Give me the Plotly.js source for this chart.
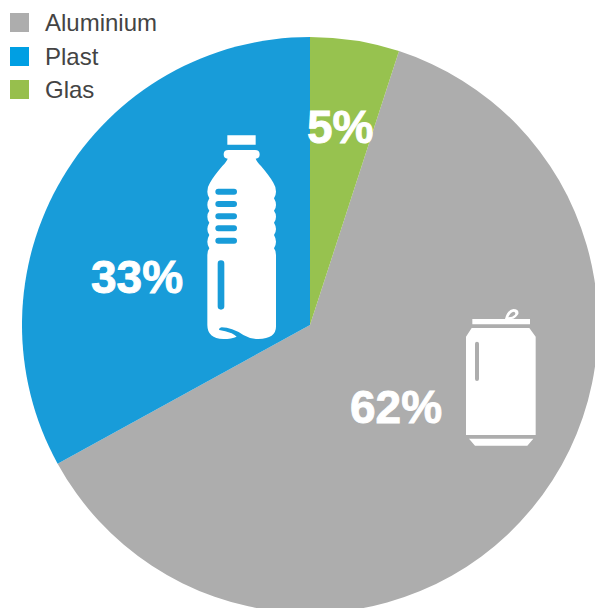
<!DOCTYPE html>
<html>
<head>
<meta charset="utf-8">
<script src="https://cdn.plot.ly/plotly-3.0.1.min.js"></script>
<style>
html,body{margin:0;padding:0;width:595px;height:608px;overflow:hidden;background:#fff}
.annotation-text tspan[style*="bold"]{stroke:#fff;stroke-width:0.9px}
</style>
</head>
<body>
<div id="chart"></div>
<script>
const categories = ['Aluminium', 'Plast', 'Glas'];
const values = [62, 33, 5];
const sliceColors = ['#ADADAD', '#189CD9', '#97C24F'];
const legendColors = ['#ADADAD', '#009FE3', '#97BF4D'];

// The canvas is a little larger than the window so the pie is cut by the right and bottom edges.
const W = 620, H = 640;
const CX = 310, CY = 325, R = 288;
const labelPos = [[396, 407], [137, 277], [340, 127]];
const legendRows = [22.5, 56.5, 89.5];

const BOTTLE = 'M112,46H197V74H112Z ' +
  'M115,90H195Q209,90 209,103Q209,116 197,116Q200,125 213,138Q240,170 250,188Q258,200 258,215Q258,225 252,235Q258,245 258,255Q258,265 252,272Q258,280 258,290Q258,300 252,308Q258,318 258,327Q258,337 252,345Q258,355 258,365Q258,375 252,385Q258,392 258,405V620Q258,655 205,657Q180,657 160,645Q125,622 95,622Q85,624 88,630Q105,632 125,640Q135,645 140,650Q125,657 100,657Q52,655 52,615V405Q52,392 58,385Q52,375 52,365Q52,355 58,345Q52,337 52,327Q52,318 58,308Q52,300 52,290Q52,280 58,272Q52,265 52,255Q52,245 58,235Q52,225 52,215Q52,200 60,188Q70,170 97,138Q110,125 113,116Q101,116 101,103Q101,90 115,90Z ' +
  [215, 252, 289, 325, 362].map(y => `M85,${y - 9}H132Q141,${y - 9} 141,${y}Q141,${y + 9} 132,${y + 9}H85Q76,${y + 9} 76,${y}Q76,${y - 9} 85,${y - 9}Z`).join(' ') +
  ' M93,421Q103,421 103,431V559Q103,569 93,569Q83,569 83,559V431Q83,421 93,421Z';
const CAN = 'M67,57H240V73H67Z M65,84H238L257,110V405H48V110Z ' +
  'M81,125Q87,125 87,131V237Q87,243 81,243Q75,243 75,237V131Q75,125 81,125Z ' +
  'M57,416H250L232,437H75Z ' +
  'M165,57Q172,30 190,27Q208,27 205,42Q195,57 185,57Z M175,52Q180,37 192,35Q198,38 195,44Q188,52 175,52Z';

// Converts a path written in pixels (zoomed by `s`, offset by ox/oy) to paper coordinates.
function toPaper(path, ox, oy, s) {
  return path.replace(/([MLHVQZ])([^MLHVQZ]*)/g, (m, cmd, args) => {
    const n = (args.match(/-?[\d.]+/g) || []).map(Number);
    const X = v => ((v / s + ox) / W).toFixed(5);
    const Y = v => (1 - (v / s + oy) / H).toFixed(5);
    if (cmd === 'H') return 'H' + X(n[0]);
    if (cmd === 'V') return 'V' + Y(n[0]);
    if (cmd === 'Z') return 'Z';
    const out = [];
    for (let i = 0; i < n.length; i += 2) out.push(X(n[i]) + ',' + Y(n[i + 1]));
    return cmd + out.join(' ');
  });
}
const px = x => x / W, py = y => 1 - y / H;

const shapes = [
  {type: 'path', xref: 'paper', yref: 'paper', path: toPaper(BOTTLE, 190, 120, 3), fillcolor: '#fff', line: {width: 0}},
  {type: 'path', xref: 'paper', yref: 'paper', path: toPaper(CAN, 450, 300, 3), fillcolor: '#fff', line: {width: 0}}
];
const annotations = [];
categories.forEach((c, i) => {
  shapes.push({type: 'rect', xref: 'paper', yref: 'paper', x0: px(10), x1: px(29),
    y0: py(legendRows[i] - 9.5), y1: py(legendRows[i] + 9.5), fillcolor: legendColors[i], line: {width: 0}});
  annotations.push({xref: 'paper', yref: 'paper', x: px(42.5), y: py(legendRows[i]), xanchor: 'left', yanchor: 'middle',
    text: c, showarrow: false, font: {family: 'Liberation Sans, Arial, sans-serif', size: 24, color: '#444444'}});
  annotations.push({xref: 'paper', yref: 'paper', x: px(labelPos[i][0]), y: py(labelPos[i][1]), xanchor: 'center', yanchor: 'middle',
    text: '<b>' + values[i] + '%</b>', showarrow: false, font: {family: 'Liberation Sans, Arial, sans-serif', size: 46, color: '#fff'}});
});

Plotly.newPlot('chart', [{
  type: 'pie', labels: categories, values: values, sort: false, direction: 'clockwise',
  rotation: 18, textinfo: 'none', hoverinfo: 'label+percent',
  marker: {colors: sliceColors, line: {width: 0}},
  domain: {x: [px(CX - R), px(CX + R)], y: [py(CY + R), py(CY - R)]}
}], {
  width: W, height: H, margin: {l: 0, r: 0, t: 0, b: 0}, showlegend: false,
  paper_bgcolor: '#fff', shapes: shapes, annotations: annotations
}, {displayModeBar: false, staticPlot: true});
</script>
</body>
</html>
